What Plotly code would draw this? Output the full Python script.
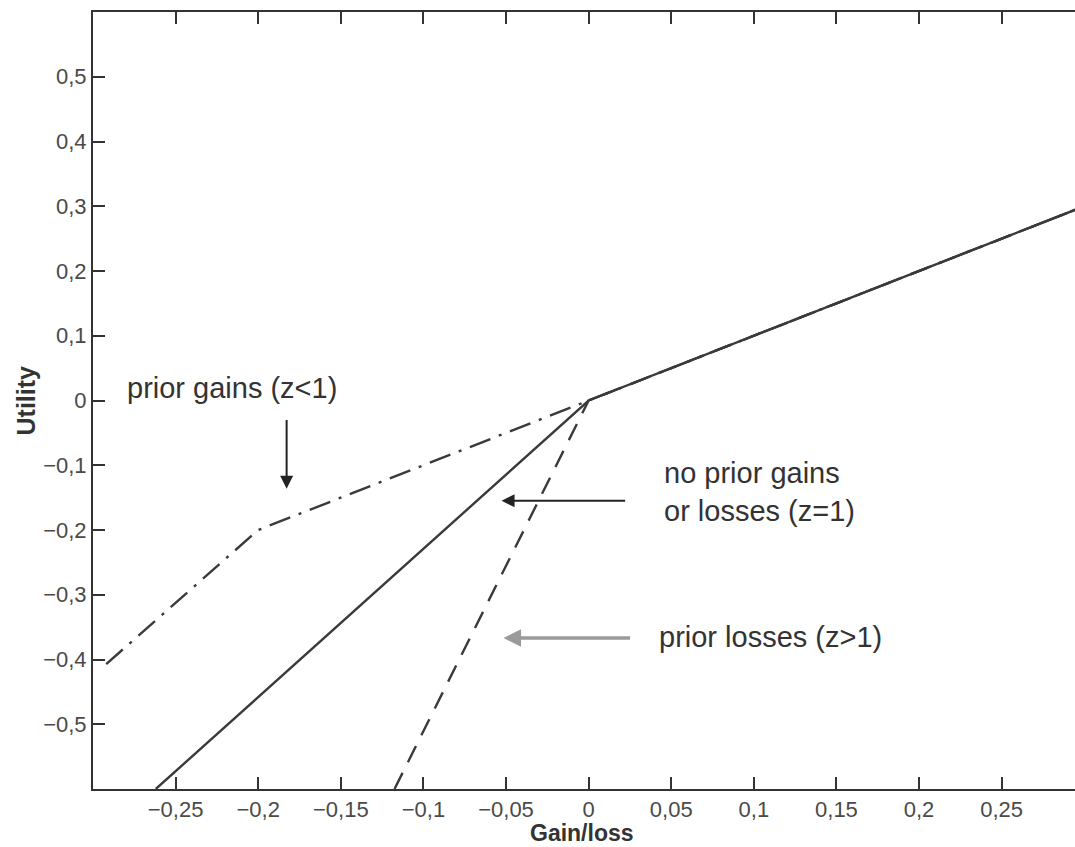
import plotly.graph_objects as go

# ---- data ----
x_no_prior = [-0.262, 0.0, 0.30]          # z = 1 (solid)
y_no_prior = [-0.60, 0.0, 0.30]

x_prior_gains = [-0.292, -0.20, 0.0, 0.30]  # z < 1 (dash-dot)
y_prior_gains = [-0.407, -0.20, 0.0, 0.30]

x_prior_losses = [-0.1175, 0.0, 0.30]     # z > 1 (dashed)
y_prior_losses = [-0.60, 0.0, 0.30]

x_tickvals = [-0.25, -0.2, -0.15, -0.1, -0.05, 0, 0.05, 0.1, 0.15, 0.2, 0.25]
x_ticktext = ["\u22120,25", "\u22120,2", "\u22120,15", "\u22120,1", "\u22120,05", "0",
              "0,05", "0,1", "0,15", "0,2", "0,25"]
y_tickvals = [-0.5, -0.4, -0.3, -0.2, -0.1, 0, 0.1, 0.2, 0.3, 0.4, 0.5]
y_ticktext = ["\u22120,5", "\u22120,4", "\u22120,3", "\u22120,2", "\u22120,1", "0",
              "0,1", "0,2", "0,3", "0,4", "0,5"]

LINE = "#3a3a3a"
FONT = "Liberation Sans, Arial, Helvetica, sans-serif"
TICKC = "#333"

fig = go.Figure()
fig.add_trace(go.Scatter(x=x_no_prior, y=y_no_prior, mode="lines",
                         line=dict(color=LINE, width=2.4), showlegend=False))
fig.add_trace(go.Scatter(x=x_prior_gains, y=y_prior_gains, mode="lines",
                         line=dict(color=LINE, width=2.4, dash="22px,9px,3px,9px"),
                         showlegend=False))
fig.add_trace(go.Scatter(x=x_prior_losses, y=y_prior_losses, mode="lines",
                         line=dict(color=LINE, width=2.4, dash="18px,12px"),
                         showlegend=False))

tick_font = dict(family=FONT, size=22, color="#4a4a4a")

fig.update_layout(
    width=1075, height=847,
    margin=dict(l=93, r=0, t=12, b=58),
    plot_bgcolor="white", paper_bgcolor="white",
    xaxis=dict(range=[-0.3, 0.2944], tickmode="array", tickvals=x_tickvals,
               ticktext=x_ticktext, showgrid=False, zeroline=False,
               showline=True, linecolor="#333", linewidth=2, mirror="ticks",
               ticks="inside", ticklen=12, tickwidth=2, tickcolor=TICKC,
               tickfont=tick_font),
    yaxis=dict(range=[-0.6, 0.6], tickmode="array", tickvals=y_tickvals,
               ticktext=y_ticktext, showgrid=False, zeroline=False,
               showline=True, linecolor="#333", linewidth=2,
               ticks="inside", ticklen=12, tickwidth=2, tickcolor=TICKC,
               tickfont=tick_font),
)

txt_font = dict(family=FONT, size=29, color="#333")
anns = [
    dict(x=0.5, y=0, xref="paper", yref="paper", yshift=-44, xshift=-2,
         text="<b>Gain/loss</b>", showarrow=False, xanchor="center", yanchor="middle",
         font=dict(family=FONT, size=23, color="#333")),
    dict(x=0, y=0.5, xref="paper", yref="paper", xshift=-68, textangle=-90,
         text="<b>Utility</b>", showarrow=False, xanchor="center", yanchor="middle",
         font=dict(family=FONT, size=25, color="#333")),
    dict(x=-0.2809, y=0.0186, xref="x", yref="y", text="prior gains (z<1)",
         showarrow=False, xanchor="left", yanchor="middle", font=txt_font),
    dict(x=0.0442, y=-0.142, xref="x", yref="y",
         text="no prior gains<br>or losses (z=1)", align="left",
         showarrow=False, xanchor="left", yanchor="middle", font=txt_font),
    dict(x=0.0412, y=-0.365, xref="x", yref="y", text="prior losses (z>1)",
         showarrow=False, xanchor="left", yanchor="middle", font=txt_font),
    # arrows
    dict(x=-0.1828, y=-0.1362, ax=-0.1828, ay=-0.0279, xref="x", yref="y",
         axref="x", ayref="y", text="", showarrow=True, arrowhead=2,
         arrowsize=1.3, arrowwidth=2, arrowcolor="#222"),
    dict(x=-0.0527, y=-0.1548, ax=0.0230, ay=-0.1548, xref="x", yref="y",
         axref="x", ayref="y", text="", showarrow=True, arrowhead=2,
         arrowsize=1.3, arrowwidth=2, arrowcolor="#222"),
    dict(x=-0.0515, y=-0.3669, ax=0.0260, ay=-0.3669, xref="x", yref="y",
         axref="x", ayref="y", text="", showarrow=True, arrowhead=2,
         arrowsize=1.0, arrowwidth=3.5, arrowcolor="#9a9a9a"),
]
fig.update_layout(annotations=anns)

fig.write_html("out.html")
